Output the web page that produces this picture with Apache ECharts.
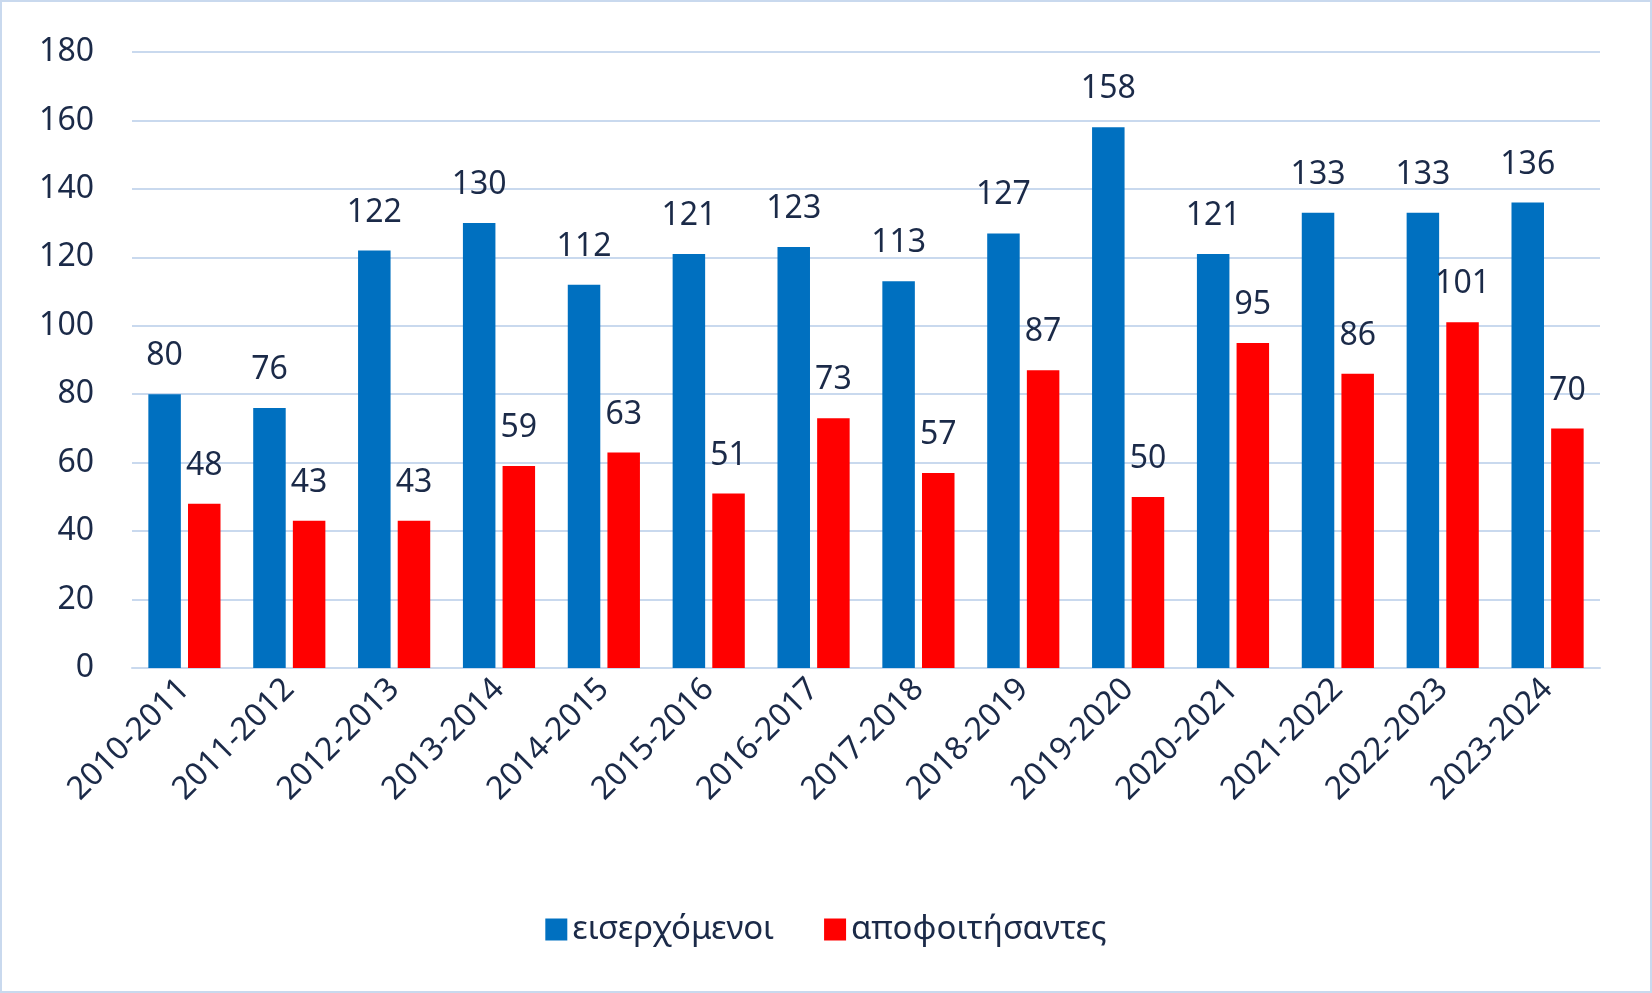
<!DOCTYPE html>
<html><head><meta charset="utf-8">
<script src="https://cdn.jsdelivr.net/npm/echarts@6/dist/echarts.min.js"></script>
<style>html,body{margin:0;padding:0;background:#fff}#c{width:1652px;height:993px;box-sizing:border-box;border:2px solid #c9d9ee}</style>
</head><body><div id="c"></div>
<script>
const categories=['2010-2011','2011-2012','2012-2013','2013-2014','2014-2015','2015-2016','2016-2017','2017-2018','2018-2019','2019-2020','2020-2021','2021-2022','2022-2023','2023-2024'];
const incoming=[80,76,122,130,112,121,123,113,127,158,121,133,133,136];
const graduates=[48,43,43,59,63,51,73,57,87,50,95,86,101,70];
const yTicks={min:0,max:180,interval:20};
const txt='#1b2a48';
const font='Noto Sans';
const chart=echarts.init(document.getElementById('c'));
const lbl={show:true,position:'top',distance:22,color:txt,fontSize:32,fontFamily:font};
chart.setOption({
  animation:false,
  grid:{left:130,right:50,top:50,bottom:323,containLabel:false},
  legend:{bottom:40,left:'center',itemWidth:22,itemHeight:22,itemGap:50,icon:'rect',
    textStyle:{color:txt,fontSize:33,fontFamily:font}},
  xAxis:{type:'category',data:categories,
    axisLine:{lineStyle:{color:'#c9d9ee',width:2}},axisTick:{show:false},
    axisLabel:{rotate:45,color:txt,fontSize:32,fontFamily:font,margin:16,interval:0}},
  yAxis:{type:'value',min:yTicks.min,max:yTicks.max,interval:yTicks.interval,
    axisLine:{show:false},axisTick:{show:false},
    splitLine:{lineStyle:{color:'#c9d9ee',width:2}},
    axisLabel:{color:txt,fontSize:32,fontFamily:font,margin:38}},
  series:[
    {name:'εισερχόμενοι',type:'bar',data:incoming,itemStyle:{color:'#0070C0'},barWidth:'31%',barGap:'22%',label:lbl},
    {name:'αποφοιτήσαντες',type:'bar',data:graduates,itemStyle:{color:'#FF0000'},barWidth:'31%',label:lbl}
  ]
});
</script></body></html>
